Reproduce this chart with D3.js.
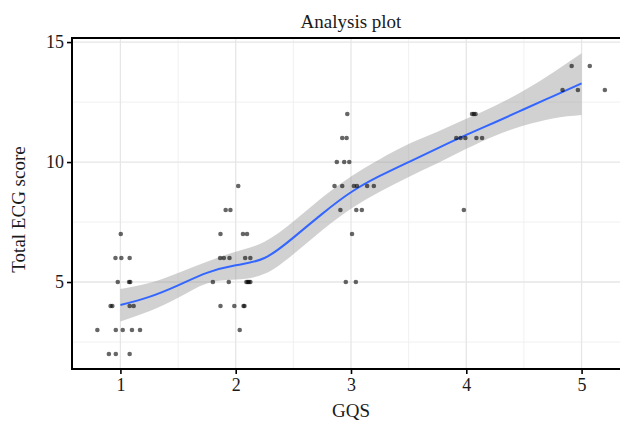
<!DOCTYPE html>
<html>
<head>
<meta charset="utf-8">
<script src="https://cdn.jsdelivr.net/npm/d3@7"></script>
<style>
  html, body { margin: 0; padding: 0; background: #fff; }
  svg { display: block; }
  text { font-family: "Liberation Serif", "DejaVu Serif", serif; fill: #1a1a1a; }
</style>
</head>
<body>
<svg id="chart" width="620" height="424"></svg>
<script>
// ---- Data ----
const title = "Analysis plot";
const xLabel = "GQS";
const yLabel = "Total ECG score";
const xTicks = [1, 2, 3, 4, 5];
const yTicks = [5, 10, 15];

// jittered observations: GQS (x) and Total ECG score (y)
const pointX = [
  1.003, 0.957, 1.008, 1.08, 0.977, 1.075, 1.085, 0.915, 0.93, 1.08, 1.115,
  0.80, 0.96, 1.02, 1.10, 1.17, 0.90, 0.96, 1.08,
  2.022, 1.913, 1.954, 1.868, 2.063, 2.098, 1.865, 1.897, 1.946, 2.082, 2.127,
  1.802, 1.94, 2.093, 2.105, 2.115, 2.127, 1.868, 1.988, 2.068, 2.076, 2.035,
  2.968, 2.924, 2.962, 2.877, 2.941, 2.985, 2.857, 2.924, 3.025, 3.052, 3.14, 3.198,
  2.908, 3.046, 3.094, 3.009, 2.955, 3.042,
  4.05, 4.065, 4.08, 3.913, 3.95, 3.992, 4.088, 4.137, 3.979,
  4.914, 5.071, 4.835, 4.968, 5.202
];
const pointY = [
  7, 6, 6, 6, 5, 5, 5, 4, 4, 4, 4,
  3, 3, 3, 3, 3, 2, 2, 2,
  9, 8, 8, 7, 7, 7, 6, 6, 6, 6, 6,
  5, 5, 5, 5, 5, 5, 4, 4, 4, 4, 3,
  12, 11, 11, 10, 10, 10, 9, 9, 9, 9, 9, 9,
  8, 8, 8, 7, 5, 5,
  12, 12, 12, 11, 11, 11, 11, 11, 8,
  14, 14, 13, 13, 13
];

// loess smooth with confidence band
const smoothX     = [1.0, 1.25, 1.5, 1.75, 2.0, 2.25, 2.5, 2.75, 3.0, 3.25, 3.5, 3.75, 4.0, 4.25, 4.5, 4.75, 5.0];
const smoothFit   = [4.04, 4.38, 4.86, 5.38, 5.70, 6.00, 6.85, 7.84, 8.74, 9.42, 10.00, 10.57, 11.13, 11.66, 12.20, 12.74, 13.28];
const smoothLower = [3.35, 3.78, 4.34, 4.94, 5.10, 5.34, 6.16, 7.16, 8.05, 8.76, 9.38, 9.95, 10.55, 11.10, 11.52, 11.82, 11.96];
const smoothUpper = [4.71, 4.96, 5.38, 5.85, 6.26, 6.68, 7.52, 8.52, 9.40, 10.12, 10.75, 11.26, 11.80, 12.35, 12.98, 13.72, 14.53];

// ---- Layout ----
const svg = d3.select("#chart");
const panel = { left: 72, top: 38, right: 630, bottom: 369 };

const x = d3.scaleLinear().domain([0.58, 5.42]).range([panel.left, panel.right]);
const y = d3.scaleLinear().domain([1.375, 15.17]).range([panel.bottom, panel.top]);

svg.append("defs").append("clipPath").attr("id", "clip")
  .append("rect")
  .attr("x", panel.left).attr("y", panel.top)
  .attr("width", panel.right - panel.left).attr("height", panel.bottom - panel.top);

const g = svg.append("g");

// minor grid
const xMinor = [1.5, 2.5, 3.5, 4.5];
const yMinor = [2.5, 7.5, 12.5];
g.selectAll(".xminor").data(xMinor).join("line")
  .attr("x1", d => x(d)).attr("x2", d => x(d))
  .attr("y1", panel.top).attr("y2", panel.bottom)
  .attr("stroke", "#f0f0f0").attr("stroke-width", 1);
g.selectAll(".yminor").data(yMinor).join("line")
  .attr("x1", panel.left).attr("x2", panel.right)
  .attr("y1", d => y(d)).attr("y2", d => y(d))
  .attr("stroke", "#f0f0f0").attr("stroke-width", 1);
// major grid
g.selectAll(".xmajor").data(xTicks).join("line")
  .attr("x1", d => x(d)).attr("x2", d => x(d))
  .attr("y1", panel.top).attr("y2", panel.bottom)
  .attr("stroke", "#e6e6e6").attr("stroke-width", 1.3);
g.selectAll(".ymajor").data(yTicks).join("line")
  .attr("x1", panel.left).attr("x2", panel.right)
  .attr("y1", d => y(d)).attr("y2", d => y(d))
  .attr("stroke", "#e6e6e6").attr("stroke-width", 1.3);

// ribbon and smooth line
const band = d3.area()
  .x((d, i) => x(smoothX[i]))
  .y0((d, i) => y(smoothLower[i]))
  .y1((d, i) => y(smoothUpper[i]))
  .curve(d3.curveNatural);
g.append("path").datum(smoothX)
  .attr("clip-path", "url(#clip)")
  .attr("d", band)
  .attr("fill", "#999999").attr("fill-opacity", 0.45);

const fitLine = d3.line()
  .x((d, i) => x(smoothX[i]))
  .y((d, i) => y(smoothFit[i]))
  .curve(d3.curveNatural);
g.append("path").datum(smoothX)
  .attr("d", fitLine)
  .attr("fill", "none").attr("stroke", "#3366FF").attr("stroke-width", 2);

// points
g.selectAll(".pt").data(pointX).join("circle")
  .attr("clip-path", "url(#clip)")
  .attr("cx", d => x(d))
  .attr("cy", (d, i) => y(pointY[i]))
  .attr("r", 2.3)
  .attr("fill", "#000").attr("fill-opacity", 0.6);

// panel border (right edge falls beyond the canvas)
svg.append("rect")
  .attr("x", panel.left).attr("y", panel.top)
  .attr("width", panel.right - panel.left).attr("height", panel.bottom - panel.top)
  .attr("fill", "none").attr("stroke", "#000").attr("stroke-width", 2);

// axes
const xAxis = d3.axisBottom(x).tickValues(xTicks).tickSize(5).tickPadding(4).tickFormat(d3.format("d"));
const yAxis = d3.axisLeft(y).tickValues(yTicks).tickSize(5).tickPadding(3).tickFormat(d3.format("d"));

const gx = svg.append("g").attr("transform", `translate(0,${panel.bottom})`).call(xAxis);
const gy = svg.append("g").attr("transform", `translate(${panel.left},0)`).call(yAxis);
[gx, gy].forEach(a => {
  a.select(".domain").remove();
  a.selectAll(".tick line").attr("stroke", "#000").attr("stroke-width", 1.6);
  a.selectAll(".tick text").attr("font-family", "Liberation Serif").attr("font-size", 18).attr("fill", "#1a1a1a");
});

// titles
svg.append("text")
  .attr("x", (panel.left + panel.right) / 2).attr("y", 28)
  .attr("text-anchor", "middle").attr("font-size", 19)
  .text(title);
svg.append("text")
  .attr("x", (panel.left + panel.right) / 2).attr("y", 417)
  .attr("text-anchor", "middle").attr("font-size", 19)
  .text(xLabel);
svg.append("text")
  .attr("transform", `translate(25,${(panel.top + panel.bottom) / 2 + 6}) rotate(-90)`)
  .attr("text-anchor", "middle").attr("font-size", 19)
  .text(yLabel);
</script>
</body>
</html>
